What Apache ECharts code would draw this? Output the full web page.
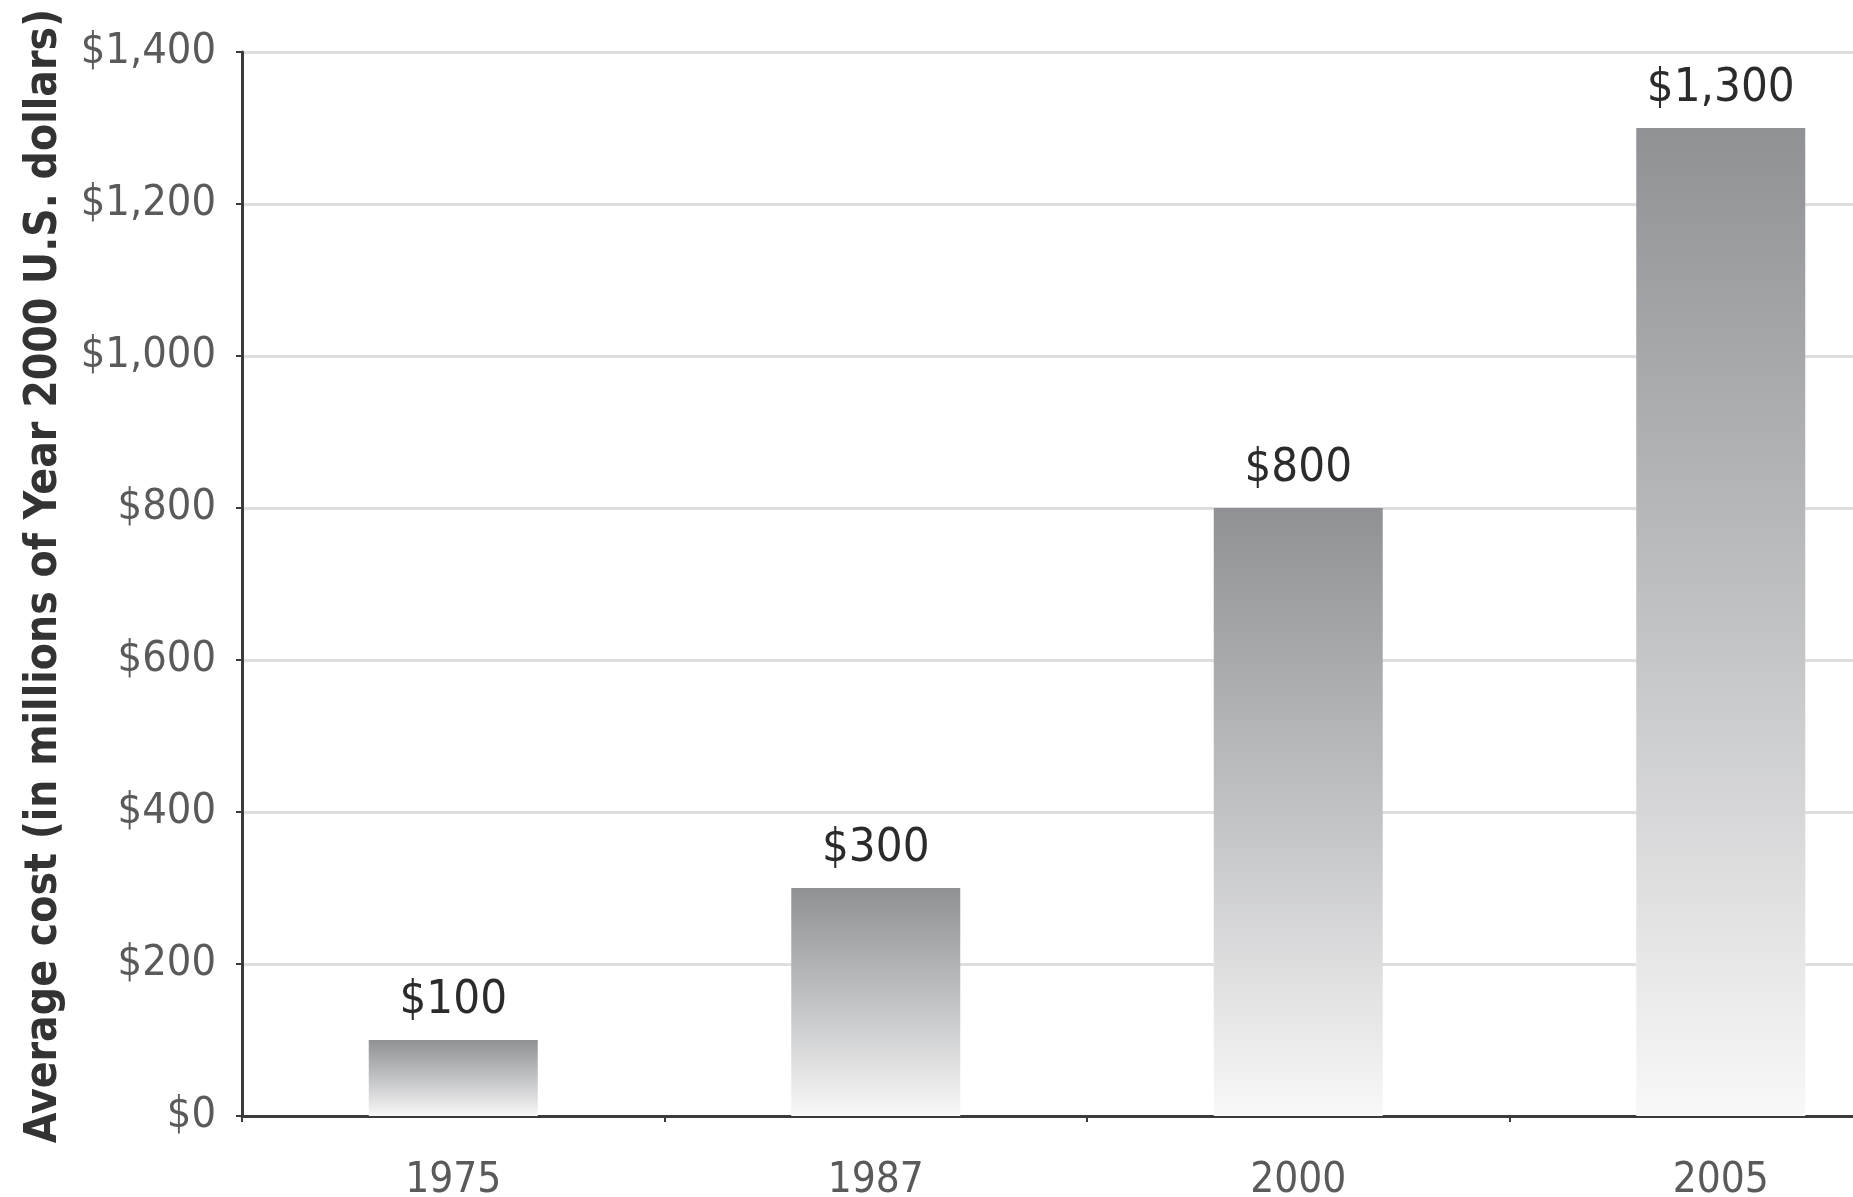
<!DOCTYPE html>
<html>
<head>
<meta charset="utf-8">
<script src="https://cdn.jsdelivr.net/npm/echarts@6/dist/echarts.min.js"></script>
<style>
  html, body { margin: 0; padding: 0; background: #ffffff; }
  #chart { width: 1853px; height: 1197px; }
</style>
</head>
<body>
<div id="chart"></div>
<script>
// Average cost per year (millions of Year 2000 U.S. dollars)
const years = ['1975', '1987', '2000', '2005'];
const avgCost = [100, 300, 800, 1300];
const yTicks = { min: 0, max: 1400, step: 200 };
const axisTitle = 'Average cost (in millions of Year 2000 U.S. dollars)';

const FONT = '"DejaVu Sans Condensed", "Open Sans", sans-serif';

function money(v) {
  return '$' + Number(v).toLocaleString('en-US');
}

const chart = echarts.init(document.getElementById('chart'));
chart.setOption({
  animation: false,
  backgroundColor: '#ffffff',
  // plot area runs past the right edge of the canvas
  grid: { left: 242, top: 52, height: 1064, width: 1690, containLabel: false, outerBoundsMode: 'none' },
  xAxis: {
    type: 'category',
    data: years,
    axisLine: { lineStyle: { color: '#3a3a3a', width: 3 } },
    axisTick: { show: true, length: 6, lineStyle: { color: '#3a3a3a', width: 2 } },
    axisLabel: { color: '#5a5a5a', fontFamily: FONT, fontSize: 42, margin: 44 }
  },
  yAxis: {
    type: 'value',
    min: yTicks.min,
    max: yTicks.max,
    interval: yTicks.step,
    name: axisTitle,
    nameLocation: 'middle',
    nameRotate: 90,
    nameGap: 175,
    nameTextStyle: {
      color: '#333333', fontFamily: FONT, fontSize: 44, fontWeight: 'bold',
      padding: [0, 0, 0, 16]
    },
    axisLine: { show: true, lineStyle: { color: '#3a3a3a', width: 3 } },
    axisTick: { show: true, length: 6, lineStyle: { color: '#3a3a3a', width: 2 } },
    axisLabel: { color: '#5a5a5a', fontFamily: FONT, fontSize: 43, margin: 26, formatter: money },
    splitLine: { lineStyle: { color: '#dedede', width: 3 } }
  },
  series: [{
    type: 'bar',
    data: avgCost,
    barWidth: '40%',
    itemStyle: {
      color: new echarts.graphic.LinearGradient(0, 0, 0, 1, [
        { offset: 0, color: '#909194' },
        { offset: 0.5, color: '#c1c2c4' },
        { offset: 1, color: '#f8f8f8' }
      ])
    },
    label: {
      show: true,
      position: 'top',
      distance: 16,
      color: '#2b2b2b',
      fontFamily: FONT,
      fontSize: 47,
      formatter: p => money(p.value)
    }
  }]
});
</script>
</body>
</html>
